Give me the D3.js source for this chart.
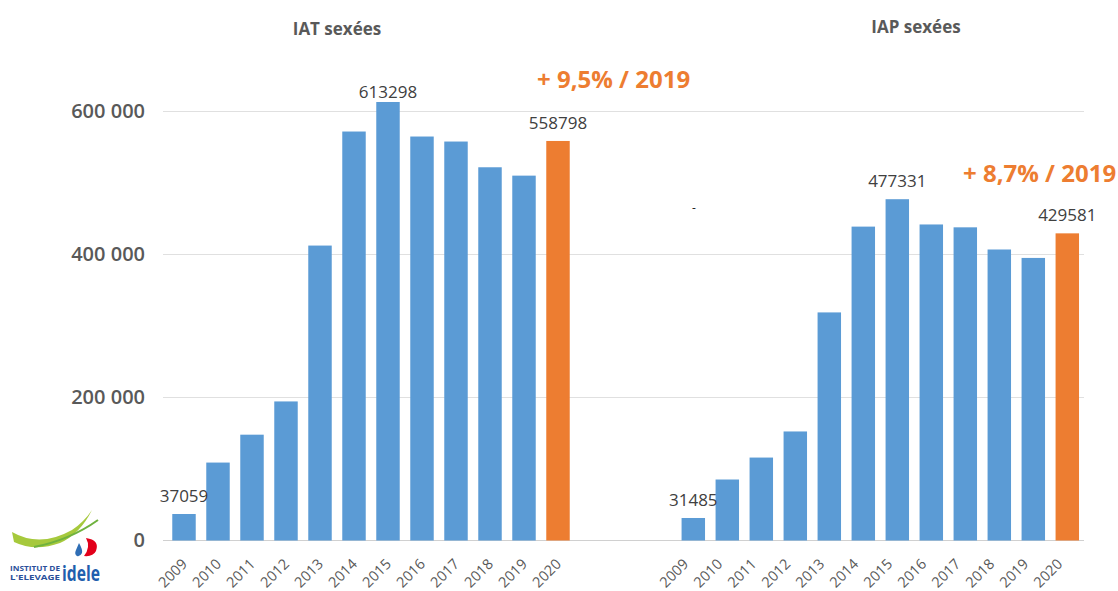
<!DOCTYPE html>
<html>
<head>
<meta charset="utf-8">
<script src="https://cdn.jsdelivr.net/npm/d3@7"></script>
<style>
  html, body { margin: 0; padding: 0; background: #fff; }
  svg { display: block; font-family: "Open Sans", "DejaVu Sans", sans-serif; }
</style>
</head>
<body>
<svg id="chart" width="1118" height="591"></svg>
<script>
// ---- data ----
const years = ["2009","2010","2011","2012","2013","2014","2015","2016","2017","2018","2019","2020"];
const iatValues = [37059, 109000, 148000, 194500, 412500, 572000, 613298, 565000, 558000, 522000, 510300, 558798];
const iapValues = [31485, 85300, 116000, 152500, 319000, 439000, 477331, 442000, 438000, 407000, 395200, 429581];
const yTicks = [0, 200000, 400000, 600000];
const panelTitles = ["IAT sexées", "IAP sexées"];
const growthLabels = ["+ 9,5% / 2019", "+ 8,7% / 2019"];
const iatLabelled = ["2009", "2015", "2020"];
const iapLabelled = ["2009", "2015", "2020"];

// ---- setup ----
const svg = d3.select("#chart");
const blue = "#5B9BD5", orange = "#ED7D31";
const fmt = d3.formatLocale({ decimal: ",", thousands: " ", grouping: [3], currency: ["", "€"] }).format(",d");

const y = d3.scaleLinear().domain([0, 600000]).range([540.5, 111.5]);

const panels = [
  { values: iatValues, labelled: iatLabelled, range: [167, 575], title: panelTitles[0], titleX: 337, titleY: 35,
    growth: growthLabels[0], growthX: 537, growthY: 88, tickDx: 4 },
  { values: iapValues, labelled: iapLabelled, range: [676.3, 1084.3], title: panelTitles[1], titleX: 916, titleY: 33,
    growth: growthLabels[1], growthX: 963, growthY: 182, tickDx: -4 }
];

// gridlines (shared across both panels)
const gridX0 = 163, gridX1 = 1084;
svg.append("g").selectAll("line")
  .data(yTicks)
  .join("line")
  .attr("x1", gridX0).attr("x2", gridX1)
  .attr("y1", d => y(d)).attr("y2", d => y(d))
  .attr("stroke", d => d === 0 ? "#d0d0d0" : "#e0e0e0")
  .attr("stroke-width", 1.2);

// y axis labels
const yAxis = d3.axisLeft(y).tickValues(yTicks).tickFormat(d => fmt(d)).tickSize(0).tickPadding(0);
const yg = svg.append("g").attr("transform", "translate(145,0)").call(yAxis);
yg.select(".domain").remove();
yg.selectAll("text")
  .attr("fill", "#595959")
  .style("font-size", "20px")
  .style("font-weight", "600")
  .style("font-family", "'Open Sans', sans-serif");

panels.forEach(p => {
  const x = d3.scaleBand().domain(years).range(p.range).paddingInner(0.31).paddingOuter(0.155);
  const data = years.map((yr, i) => ({ year: yr, value: p.values[i] }));
  const g = svg.append("g");

  g.selectAll("rect")
    .data(data)
    .join("rect")
    .attr("x", d => x(d.year))
    .attr("width", x.bandwidth())
    .attr("y", d => y(d.value))
    .attr("height", d => y(0) - y(d.value))
    .attr("fill", d => d.year === "2020" ? orange : blue);

  // x tick labels (rotated)
  const xAxis = d3.axisBottom(x).tickSize(0).tickPadding(0);
  const xg = g.append("g").call(xAxis);
  xg.select(".domain").remove();
  xg.selectAll(".tick").attr("transform", d => `translate(${x(d) + x.bandwidth() / 2 + p.tickDx},565)`);
  xg.selectAll(".tick text")
    .attr("y", 0).attr("dy", 0)
    .attr("transform", "rotate(-45)")
    .attr("text-anchor", "end")
    .attr("fill", "#595959")
    .style("font-size", "14.5px")
    .style("font-family", "'Open Sans', sans-serif");

  // value labels
  g.selectAll("text.val")
    .data(data.filter(d => p.labelled.includes(d.year)))
    .join("text")
    .attr("class", "val")
    .attr("x", d => x(d.year) + x.bandwidth() / 2)
    .attr("y", d => y(d.value) - (d.value > 600000 ? 4 : 12))
    .attr("text-anchor", "middle")
    .attr("fill", "#404040")
    .style("font-size", "17px")
    .text(d => d.value);

  // title
  g.append("text")
    .attr("x", p.titleX).attr("y", p.titleY)
    .attr("text-anchor", "middle")
    .attr("fill", "#595959")
    .style("font-size", "17px")
    .style("font-weight", "700")
    .text(p.title);

  // growth annotation
  g.append("text")
    .attr("x", p.growthX).attr("y", p.growthY)
    .attr("fill", orange)
    .style("font-size", "24px")
    .style("font-weight", "700")
    .text(p.growth);
});

// stray dash in the reference
svg.append("text").attr("x", 692).attr("y", 212).attr("fill", "#222").style("font-size", "12px").text("-");

// logo
const logo = svg.append("g");
logo.append("path").attr("d", "M12,532 Q40,548 72,530 Q84,522 92,510 Q80,534 60,543 Q35,552 14,542 Z").attr("fill", "#a6c93c");
logo.append("path").attr("d", "M34,547 Q70,540 98,520").attr("stroke", "#6fb23e").attr("stroke-width", 2).attr("fill", "none");
logo.append("path").attr("d", "M86,538 Q100,540 96,551 Q93,557 84,556 Q91,547 86,538 Z").attr("fill", "#e2001a");
logo.append("path").attr("d", "M79,543 Q83,550 82,553 Q80,557 77,556 Q74,554 76,550 Z").attr("fill", "#2f6eb5");
logo.append("text").attr("x", 10).attr("y", 571).attr("fill", "#2a4f9a")
  .attr("textLength", 50).attr("lengthAdjust", "spacingAndGlyphs")
  .style("font-size", "7.5px").style("font-weight", "700").text("INSTITUT DE");
logo.append("text").attr("x", 10).attr("y", 580).attr("fill", "#2a4f9a")
  .attr("textLength", 50).attr("lengthAdjust", "spacingAndGlyphs")
  .style("font-size", "7.5px").style("font-weight", "700").text("L'ELEVAGE");
logo.append("text").attr("x", 62).attr("y", 581).attr("fill", "#1f5fae")
  .attr("textLength", 38).attr("lengthAdjust", "spacingAndGlyphs")
  .style("font-size", "22px").style("font-weight", "700").text("idele");
</script>
</body>
</html>
